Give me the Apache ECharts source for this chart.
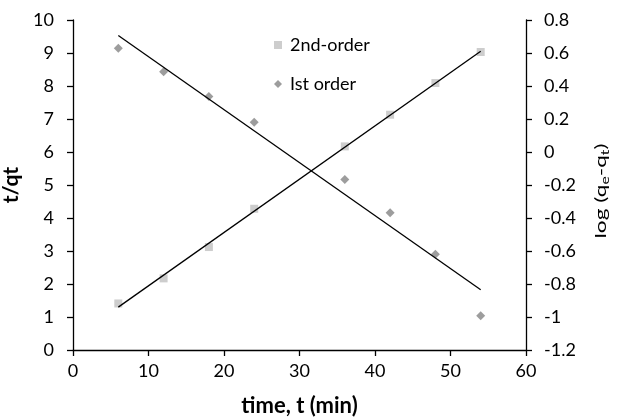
<!DOCTYPE html>
<html>
<head>
<meta charset="utf-8">
<script src="https://cdn.jsdelivr.net/npm/echarts@6/dist/echarts.min.js"></script>
<style>html,body{margin:0;padding:0;background:#fff}#c{width:619px;height:417px}</style>
</head>
<body>
<div id="c"></div>
<script>
var timeMin = [6, 12, 18, 24, 36, 42, 48, 54];
var tqt = [1.41, 2.17, 3.12, 4.28, 6.17, 7.13, 8.09, 9.03];
var logq = [0.629, 0.486, 0.337, 0.18, -0.167, -0.368, -0.62, -0.993];
var seriesNames = ['2nd-order', 'Ist order'];

function fit(xs, ys) {
  var n = xs.length, mx = 0, my = 0;
  for (var i = 0; i < n; i++) { mx += xs[i]; my += ys[i]; }
  mx /= n; my /= n;
  var sxy = 0, sxx = 0;
  for (var i = 0; i < n; i++) { sxy += (xs[i]-mx)*(ys[i]-my); sxx += (xs[i]-mx)*(xs[i]-mx); }
  var b = sxy / sxx, a = my - b * mx;
  var x0 = xs[0], x1 = xs[n-1];
  return [[x0, a + b*x0], [x1, a + b*x1]];
}
function pairs(xs, ys) { return xs.map(function (x, i) { return [x, ys[i]]; }); }

var FONT = 'Lato';
var TICK = 18;
var chart = echarts.init(document.getElementById('c'));
var axisCommon = {
  axisLine: { show: true, lineStyle: { color: '#000', width: 1.3 } },
  axisTick: { show: true, inside: false, length: 6, lineStyle: { color: '#000', width: 1.3 } },
  splitLine: { show: false },
  axisLabel: { color: '#000', fontFamily: FONT, fontSize: TICK }
};
chart.setOption({
  animation: false,
  backgroundColor: '#fff',
  grid: { left: 73, right: 93, top: 20, bottom: 67, containLabel: false, outerBoundsMode: 'none' },
  legend: {
    data: [{ name: seriesNames[0], icon: 'rect' }, { name: seriesNames[1], icon: 'diamond' }],
    orient: 'vertical', left: 269, top: 30, itemWidth: 8, itemHeight: 8, itemGap: 19,
    textStyle: { color: '#000', fontFamily: FONT, fontSize: TICK, lineHeight: 20, padding: [0, 0, 0, 3] }
  },
  graphic: [{
    type: 'text', x: 601, y: 191, rotation: Math.PI / 2, scaleX: 1.42, silent: true,
    style: {
      text: '{m|log (q}{sub|e}{m|-q}{sub|t}{m|)}', align: 'center', verticalAlign: 'middle',
      fontFamily: FONT, fontSize: 16, fill: '#000',
      rich: {
        m: { fontFamily: FONT, fontSize: 16, lineHeight: 20, fill: '#000' },
        sub: { fontFamily: FONT, fontSize: 11, lineHeight: 11, verticalAlign: 'bottom', fill: '#000' }
      }
    }
  }],
  xAxis: Object.assign({}, axisCommon, {
    type: 'value', min: 0, max: 60, interval: 10,
    axisLabel: Object.assign({}, axisCommon.axisLabel, { margin: 12 }),
    name: 'time, t (min)', nameLocation: 'middle', nameGap: 45,
    nameTextStyle: { color: '#000', fontFamily: FONT, fontSize: 22, fontWeight: 'bold' }
  }),
  yAxis: [
    Object.assign({}, axisCommon, {
      type: 'value', min: 0, max: 10, interval: 1, position: 'left',
      axisLabel: Object.assign({}, axisCommon.axisLabel, { margin: 19 }),
      name: 't/qt', nameLocation: 'middle', nameGap: 38, nameRotate: 90,
      nameTextStyle: { color: '#000', fontFamily: FONT, fontSize: 21, fontWeight: 'bold' }
    }),
    Object.assign({}, axisCommon, {
      type: 'value', min: -1.2, max: 0.8, interval: 0.2, position: 'right',
      axisLabel: Object.assign({}, axisCommon.axisLabel, { margin: 18,
        formatter: function (v) { return String(parseFloat(v.toFixed(1))); } })
    })
  ],
  series: [
    { name: seriesNames[0], type: 'scatter', yAxisIndex: 0, symbol: 'rect', symbolSize: 8,
      itemStyle: { color: '#C0C0C0' }, data: pairs(timeMin, tqt), z: 2 },
    { name: seriesNames[1], type: 'scatter', yAxisIndex: 1, symbol: 'diamond', symbolSize: 9,
      itemStyle: { color: '#848484' }, data: pairs(timeMin, logq), z: 2 },
    { name: 'fit2', type: 'line', yAxisIndex: 0, symbol: 'none', silent: true,
      lineStyle: { color: '#000', width: 1.3 }, data: fit(timeMin, tqt), z: 3 },
    { name: 'fit1', type: 'line', yAxisIndex: 1, symbol: 'none', silent: true,
      lineStyle: { color: '#000', width: 1.3 }, data: fit(timeMin, logq), z: 3 }
  ]
});
</script>
</body>
</html>
